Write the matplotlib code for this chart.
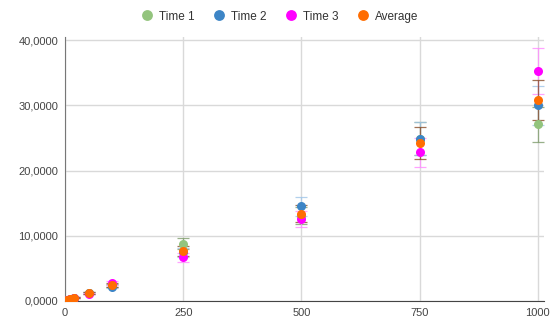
import numpy as np
import matplotlib
matplotlib.use("Agg")
import matplotlib.pyplot as plt
from matplotlib.ticker import FuncFormatter

plt.rcParams['font.family'] = ['Liberation Sans', 'DejaVu Sans']

# --- data ---
x_vals = [1, 5, 10, 20, 50, 100, 250, 500, 750, 1000]
time1 = [0.03, 0.13, 0.26, 0.52, 1.25, 2.4, 8.8, 13.1, 24.9, 27.1]
time2 = [0.03, 0.12, 0.25, 0.50, 1.20, 2.2, 7.45, 14.5, 24.9, 30.0]
time3 = [0.03, 0.12, 0.24, 0.49, 1.15, 2.8, 6.7, 12.6, 22.8, 35.3]
average = list(np.mean([time1, time2, time3], axis=0))

series = [
    ("Time 1", time1, "#93c47d", "#7f9c6c"),
    ("Time 2", time2, "#3d85c6", "#9fc5e8"),
    ("Time 3", time3, "#ff00ff", "#ff8cff"),
    ("Average", average, "#ff6d01", "#8a4f2a"),
]

fig = plt.figure(figsize=(5.58, 3.22), dpi=100)
ax = fig.add_axes([65 / 558, 21 / 322, 479 / 558, 264 / 322])

# error bars (10%) drawn first, points on top
for name, vals, col, ecol in series:
    vals = np.array(vals)
    ax.errorbar(x_vals, vals, yerr=vals * 0.1, fmt="none", ecolor=ecol,
                elinewidth=0.9, capsize=4, capthick=0.9, alpha=0.8, zorder=2)
handles = []
for name, vals, col, ecol in series:
    h, = ax.plot(x_vals, vals, "o", color=col, markersize=6.5,
                 markeredgewidth=0, label=name, zorder=3)
    handles.append(h)

ax.set_xlim(0, 1013)
ax.set_ylim(0, 40.5)
ax.set_xticks([0, 250, 500, 750, 1000])
ax.set_yticks([0, 10, 20, 30, 40])
ax.yaxis.set_major_formatter(FuncFormatter(lambda v, p: f"{v:.4f}".replace(".", ",")))
ax.grid(True, color="#d9d9d9", linewidth=1)
ax.set_axisbelow(True)
ax.tick_params(length=0, labelsize=8, colors="#444444", pad=5)
for s in ["top", "right"]:
    ax.spines[s].set_visible(False)
ax.spines["left"].set_color("#777777")
ax.spines["bottom"].set_color("#444444")

fig.legend(handles=handles, loc="upper center", bbox_to_anchor=(0.5, 1.0),
           ncol=4, frameon=False, fontsize=8.5, handletextpad=0.4,
           columnspacing=1.5, markerscale=1.2, handlelength=1.2,
           labelcolor="#333333")

fig.savefig("out.png", dpi=100)
